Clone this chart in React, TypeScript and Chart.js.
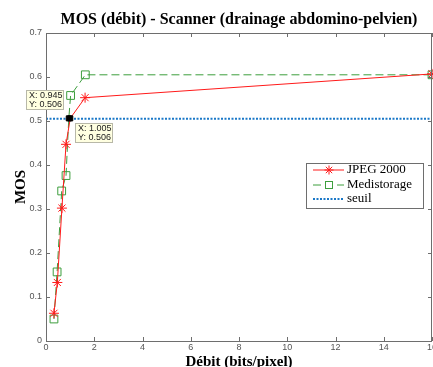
import React, { useEffect, useRef } from "react";
import { Chart, registerables } from "chart.js";

Chart.register(...registerables);

const TITLE = "MOS (débit) - Scanner (drainage abdomino-pelvien)";
const X_LABEL = "Débit (bits/pixel)";
const Y_LABEL = "MOS";

const X_TICKS = [0, 2, 4, 6, 8, 10, 12, 14, 16];
const X_TICK_LABELS = ["0", "2", "4", "6", "8", "10", "12", "14", "16"];
const Y_TICKS = [0, 0.1, 0.2, 0.3, 0.4, 0.5, 0.6, 0.7];
const Y_TICK_LABELS = ["0", "0.1", "0.2", "0.3", "0.4", "0.5", "0.6", "0.7"];

const JPEG_X = [0.33, 0.47, 0.66, 0.83, 1.005, 1.62, 16];
const JPEG_Y = [0.063, 0.133, 0.302, 0.447, 0.506, 0.553, 0.607];
const JPEG_MARK = [true, true, true, true, false, true, true];

const MEDI_X = [0.33, 0.46, 0.65, 0.83, 0.945, 1.02, 1.63, 16];
const MEDI_Y = [0.05, 0.157, 0.341, 0.376, 0.506, 0.558, 0.605, 0.605];
const MEDI_MARK = [true, true, true, true, false, true, true, true];

const SEUIL_X = [0, 16];
const SEUIL_Y = [0.505, 0.505];

const TIP_X = [0.945, 1.005];
const TIP_Y = [0.506, 0.506];
const TIP_TEXT = [
  ["X: 0.945", "Y: 0.506"],
  ["X: 1.005", "Y: 0.506"],
];

const LEGEND_LABELS = ["JPEG 2000", "Medistorage", "seuil"];

const RED = "#ff1a1a";
const GREEN = "#3d9e3d";
const BLUE = "#1a78c8";
const AXIS = "#6e6e6e";
const TICKTXT = "#555555";

function drawStar(ctx: CanvasRenderingContext2D, x: number, y: number, r: number) {
  ctx.beginPath();
  for (let i = 0; i < 4; i++) {
    const a = (i * Math.PI) / 4;
    ctx.moveTo(x - r * Math.cos(a), y - r * Math.sin(a));
    ctx.lineTo(x + r * Math.cos(a), y + r * Math.sin(a));
  }
  ctx.stroke();
}

const customPlugin = {
  id: "matlabStyle",
  afterDraw(chart: any) {
    const ctx: CanvasRenderingContext2D = chart.ctx;
    const { left, right, top, bottom } = chart.chartArea;
    const xs = chart.scales.x;
    const ys = chart.scales.y;
    ctx.save();

    // axes box
    ctx.strokeStyle = AXIS;
    ctx.lineWidth = 1;
    ctx.setLineDash([]);
    ctx.strokeRect(Math.round(left) + 0.5, Math.round(top) + 0.5, Math.round(right - left) - 1, Math.round(bottom - top));

    // inward ticks
    ctx.beginPath();
    X_TICKS.forEach((v) => {
      const px = Math.round(xs.getPixelForValue(v)) + 0.5;
      ctx.moveTo(px, bottom);
      ctx.lineTo(px, bottom - 4);
      ctx.moveTo(px, top);
      ctx.lineTo(px, top + 4);
    });
    Y_TICKS.forEach((v) => {
      const py = Math.round(ys.getPixelForValue(v)) + 0.5;
      ctx.moveTo(left, py);
      ctx.lineTo(left + 4, py);
      ctx.moveTo(right, py);
      ctx.lineTo(right - 4, py);
    });
    ctx.stroke();

    // tick labels
    ctx.fillStyle = TICKTXT;
    ctx.font = "9px 'Liberation Sans', Arial, sans-serif";
    ctx.textAlign = "center";
    ctx.textBaseline = "middle";
    X_TICKS.forEach((v, i) => {
      ctx.fillText(X_TICK_LABELS[i], xs.getPixelForValue(v), bottom + 7);
    });
    ctx.textAlign = "right";
    Y_TICKS.forEach((v, i) => {
      ctx.fillText(Y_TICK_LABELS[i], left - 4, ys.getPixelForValue(v));
    });

    // title and axis labels
    ctx.fillStyle = "#000";
    ctx.textAlign = "center";
    ctx.textBaseline = "alphabetic";
    ctx.font = "bold 16px 'Liberation Serif', 'Times New Roman', serif";
    ctx.fillText(TITLE, (left + right) / 2, 24);
    ctx.font = "bold 15px 'Liberation Serif', 'Times New Roman', serif";
    ctx.fillText(X_LABEL, (left + right) / 2, 366);
    ctx.save();
    ctx.translate(25, (top + bottom) / 2);
    ctx.rotate(-Math.PI / 2);
    ctx.fillText(Y_LABEL, 0, 0);
    ctx.restore();

    // datatip boxes
    ctx.font = "9px 'Liberation Sans', Arial, sans-serif";
    TIP_X.forEach((tx, i) => {
      const px = xs.getPixelForValue(tx);
      const py = ys.getPixelForValue(TIP_Y[i]);
      const w = 38;
      const h = 20;
      let bx: number, by: number;
      if (i === 0) {
        bx = Math.round(px - 5 - w);
        by = Math.round(py - 8 - h);
      } else {
        bx = Math.round(px + 5);
        by = Math.round(py + 5);
      }
      ctx.fillStyle = "#ffffe1";
      ctx.fillRect(bx, by, w, h);
      ctx.strokeStyle = "#b8b8a8";
      ctx.lineWidth = 1;
      ctx.strokeRect(bx + 0.5, by + 0.5, w - 1, h - 1);
      ctx.fillStyle = "#222";
      ctx.textAlign = "left";
      ctx.textBaseline = "middle";
      ctx.fillText(TIP_TEXT[i][0], bx + 3, by + 6);
      ctx.fillText(TIP_TEXT[i][1], bx + 3, by + 15);
    });

    // legend
    const lx = 306, ly = 163, lw = 117, lh = 45;
    ctx.fillStyle = "#fff";
    ctx.fillRect(lx, ly, lw, lh);
    ctx.strokeStyle = AXIS;
    ctx.lineWidth = 1;
    ctx.strokeRect(lx + 0.5, ly + 0.5, lw, lh);
    const rowsY = [170, 185, 199];
    const sx0 = 313, sx1 = 344, sxm = 329;
    // JPEG
    ctx.strokeStyle = RED;
    ctx.lineWidth = 1;
    ctx.beginPath();
    ctx.moveTo(sx0, rowsY[0]);
    ctx.lineTo(sx1, rowsY[0]);
    ctx.stroke();
    drawStar(ctx, sxm, rowsY[0], 4.5);
    // Medistorage
    ctx.strokeStyle = GREEN;
    ctx.setLineDash([8, 4]);
    ctx.beginPath();
    ctx.moveTo(sx0, rowsY[1]);
    ctx.lineTo(sx1, rowsY[1]);
    ctx.stroke();
    ctx.setLineDash([]);
    ctx.fillStyle = "#fff";
    ctx.fillRect(sxm - 4, rowsY[1] - 4, 8, 8);
    ctx.strokeRect(sxm - 3.5, rowsY[1] - 3.5, 7, 7);
    // seuil
    ctx.strokeStyle = BLUE;
    ctx.lineWidth = 2;
    ctx.setLineDash([2, 1.5]);
    ctx.beginPath();
    ctx.moveTo(sx0, rowsY[2]);
    ctx.lineTo(sx1, rowsY[2]);
    ctx.stroke();
    ctx.setLineDash([]);

    ctx.fillStyle = "#000";
    ctx.font = "13px 'Liberation Serif', 'Times New Roman', serif";
    ctx.textAlign = "left";
    ctx.textBaseline = "middle";
    LEGEND_LABELS.forEach((t, i) => ctx.fillText(t, 347, rowsY[i]));

    ctx.restore();
  },
};

export default function App() {
  const ref = useRef<HTMLCanvasElement | null>(null);
  useEffect(() => {
    if (!ref.current) return;
    const chart = new Chart(ref.current, {
      type: "scatter",
      data: {
        datasets: [
          {
            label: "datatip",
            data: TIP_X.map((x, i) => ({ x, y: TIP_Y[i] })),
            showLine: false,
            pointStyle: "rect",
            pointRadius: 3.6,
            backgroundColor: "#000",
            borderColor: "#000",
            borderWidth: 1,
            order: 0,
            clip: false,
          } as any,
          {
            label: "JPEG 2000",
            data: JPEG_X.map((x, i) => ({ x, y: JPEG_Y[i] })),
            showLine: true,
            borderColor: RED,
            backgroundColor: RED,
            borderWidth: 1,
            pointStyle: "star",
            pointRadius: JPEG_MARK.map((m) => (m ? 5 : 0)),
            pointBorderColor: RED,
            pointBorderWidth: 1,
            order: 1,
            clip: false,
          } as any,
          {
            label: "Medistorage",
            data: MEDI_X.map((x, i) => ({ x, y: MEDI_Y[i] })),
            showLine: true,
            borderColor: GREEN,
            backgroundColor: "rgba(0,0,0,0)",
            borderWidth: 1,
            borderDash: [8, 4],
            pointStyle: "rect",
            pointRadius: MEDI_MARK.map((m) => (m ? 5.5 : 0)),
            pointBorderColor: GREEN,
            pointBackgroundColor: "rgba(0,0,0,0)",
            pointBorderWidth: 1,
            order: 2,
            clip: false,
          } as any,
          {
            label: "seuil",
            data: SEUIL_X.map((x, i) => ({ x, y: SEUIL_Y[i] })),
            showLine: true,
            borderColor: BLUE,
            borderWidth: 2,
            borderDash: [2, 1.5],
            pointRadius: 0,
            order: 3,
          } as any,
        ],
      },
      options: {
        responsive: false,
        animation: false,
        devicePixelRatio: 1,
        layout: { autoPadding: false, padding: { left: 0, right: 1, top: 33, bottom: 0 } },
        plugins: {
          legend: { display: false },
          title: { display: false },
          tooltip: { enabled: false },
        },
        events: [],
        scales: {
          x: {
            type: "linear",
            min: 0,
            max: 16,
            grid: { display: false, drawTicks: false },
            border: { display: false },
            ticks: { display: false },
            afterFit: (s: any) => {
              s.height = 26;
            },
          },
          y: {
            type: "linear",
            min: 0,
            max: 0.7,
            grid: { display: false, drawTicks: false },
            border: { display: false },
            ticks: { display: false },
            afterFit: (s: any) => {
              s.width = 46;
            },
          },
        },
      },
      plugins: [customPlugin],
    } as any);
    return () => chart.destroy();
  }, []);
  return (
    <div style={{ position: "fixed", left: 0, top: 0, width: 433, height: 367, background: "#fff" }}>
      <canvas ref={ref} width={433} height={367} />
    </div>
  );
}
